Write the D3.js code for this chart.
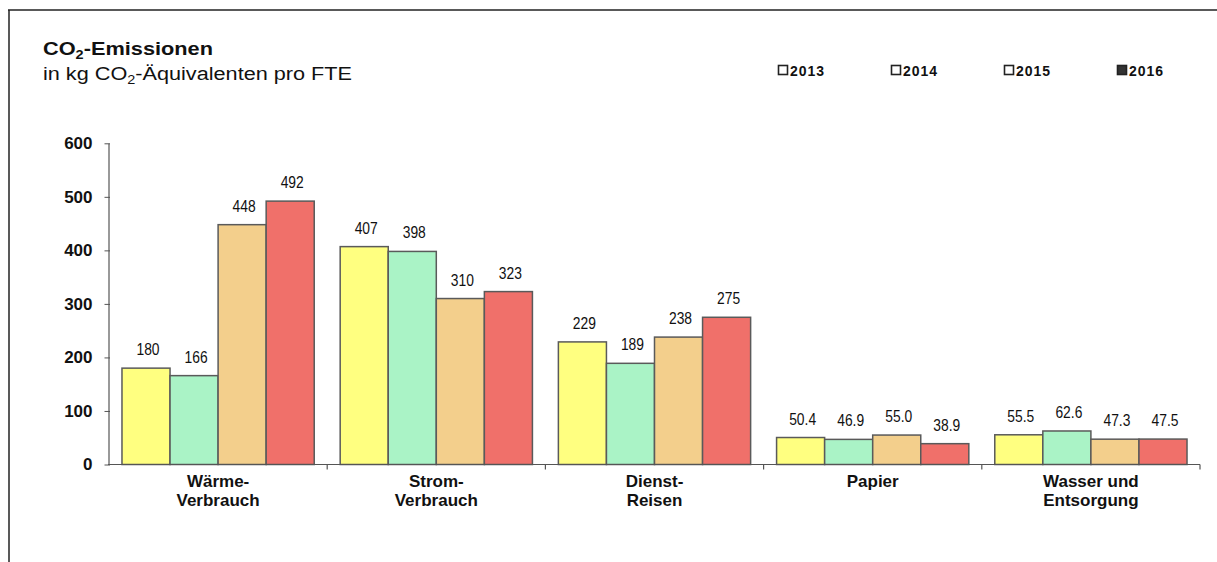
<!DOCTYPE html>
<html>
<head>
<meta charset="utf-8">
<script src="https://cdn.jsdelivr.net/npm/d3@7/dist/d3.min.js"></script>
<style>
  html, body { margin: 0; padding: 0; background: #fff; }
  svg { display: block; font-family: "Liberation Sans", Arial, Helvetica, sans-serif; }
</style>
</head>
<body>
<svg id="chart" width="1217" height="562"></svg>
<script>
// ---- data ----
const categories = [["Wärme-", "Verbrauch"], ["Strom-", "Verbrauch"], ["Dienst-", "Reisen"], ["Papier"], ["Wasser und", "Entsorgung"]];
const years = ["2013", "2014", "2015", "2016"];
const values2013 = [180, 407, 229, 50.4, 55.5];
const values2014 = [166, 398, 189, 46.9, 62.6];
const values2015 = [448, 310, 238, 55.0, 47.3];
const values2016 = [492, 323, 275, 38.9, 47.5];
const yTicks = [0, 100, 200, 300, 400, 500, 600];
const colors = ["#ffff80", "#aaf3c6", "#f3cf8c", "#f0706a"];

const series = [values2013, values2014, values2015, values2016];
const catKeys = categories.map(c => c.join(" "));

const svg = d3.select("#chart");

// frame
svg.append("line").attr("x1", 8).attr("x2", 1217).attr("y1", 10).attr("y2", 10)
  .attr("stroke", "#222").attr("stroke-width", 1.5);
svg.append("line").attr("x1", 9).attr("x2", 9).attr("y1", 10).attr("y2", 562)
  .attr("stroke", "#222").attr("stroke-width", 1.5);

// title
const title = svg.append("text").attr("x", 43).attr("y", 55)
  .attr("font-size", 18).attr("font-weight", "bold").attr("fill", "#111")
  .attr("textLength", 170).attr("lengthAdjust", "spacingAndGlyphs");
title.append("tspan").text("CO");
title.append("tspan").attr("font-size", 12).attr("dy", 4).text("2");
title.append("tspan").attr("dy", -4).text("-Emissionen");

const sub = svg.append("text").attr("x", 43).attr("y", 80)
  .attr("font-size", 18).attr("fill", "#111")
  .attr("textLength", 309).attr("lengthAdjust", "spacingAndGlyphs");
sub.append("tspan").text("in kg CO");
sub.append("tspan").attr("font-size", 12).attr("dy", 4).text("2");
sub.append("tspan").attr("dy", -4).text("-Äquivalenten pro FTE");

// legend
const legendX = d3.scalePoint().domain(years).range([778, 1117]);
const leg = svg.append("g").selectAll("g").data(years).join("g")
  .attr("transform", d => `translate(${legendX(d)},65)`);
leg.append("rect").attr("x", 0.5).attr("y", 0.5).attr("width", 9).attr("height", 9)
  .attr("fill", (d, i) => i === 3 ? "#333" : "#fff")
  .attr("stroke", "#222").attr("stroke-width", 1.6);
leg.append("text").attr("x", 12).attr("y", 10.5).attr("font-size", 14)
  .attr("font-weight", "bold").attr("letter-spacing", 1).attr("fill", "#111").text(d => d);

// scales
const x0 = d3.scaleBand().domain(catKeys).range([109, 1200]).paddingInner(0).paddingOuter(0);
const x1 = d3.scaleBand().domain(years).range([0, x0.bandwidth()]).paddingInner(0).paddingOuter(0.27);
const y = d3.scaleLinear().domain([0, 600]).range([464.5, 143.3]);

// y axis
const yAxis = svg.append("g").attr("transform", "translate(108.5,0)")
  .call(d3.axisLeft(y).tickValues(yTicks).tickSize(4).tickPadding(12).tickSizeOuter(0));
yAxis.select(".domain").attr("stroke", "#555").attr("stroke-width", 1.2);
yAxis.selectAll(".tick line").attr("stroke", "#555").attr("x2", -4).attr("x1", 1.5);
yAxis.selectAll(".tick text").attr("font-size", 17).attr("font-weight", "bold")
  .attr("fill", "#111").attr("font-family", "Liberation Sans, Arial, sans-serif");

// bars
const groups = svg.append("g").selectAll("g").data(catKeys).join("g")
  .attr("transform", d => `translate(${x0(d)},0)`);
groups.selectAll("rect").data((d, ci) => years.map((yr, si) => ({ yr, si, v: series[si][ci] })))
  .join("rect")
  .attr("x", d => x1(d.yr))
  .attr("y", d => y(d.v))
  .attr("width", x1.bandwidth())
  .attr("height", d => y(0) - y(d.v))
  .attr("fill", d => colors[d.si])
  .attr("stroke", "#5a5a5a").attr("stroke-width", 1.5);

// value labels
const fmt = v => v < 100 ? v.toFixed(1) : d3.format("d")(v);
groups.selectAll("text.val").data((d, ci) => years.map((yr, si) => ({ yr, si, v: series[si][ci] })))
  .join("text").attr("class", "val")
  .attr("transform", d => `translate(${x1(d.yr) + x1.bandwidth() / 2 + 2},${y(d.v) - 13}) scale(0.84,1)`)
  .attr("text-anchor", "middle").attr("font-size", 16.5).attr("fill", "#111")
  .text(d => fmt(d.v));

// x axis
const xAxis = svg.append("g").attr("transform", "translate(0,464.5)");
xAxis.append("line").attr("x1", 108).attr("x2", 1200).attr("y1", 0).attr("y2", 0)
  .attr("stroke", "#555").attr("stroke-width", 1.2);
const boundaries = catKeys.slice(1).map(k => x0(k)).concat([x0.range()[1]]);
xAxis.selectAll("line.t").data(boundaries).join("line").attr("class", "t")
  .attr("x1", d => d).attr("x2", d => d).attr("y1", 0).attr("y2", 5)
  .attr("stroke", "#555").attr("stroke-width", 1.2);

// category labels
const cl = svg.append("g").selectAll("text").data(categories).join("text")
  .attr("text-anchor", "middle").attr("font-size", 17).attr("font-weight", "bold").attr("fill", "#111")
  .attr("x", (d, i) => x0(catKeys[i]) + x0.bandwidth() / 2).attr("y", 487);
cl.selectAll("tspan").data(d => d).join("tspan")
  .attr("x", function () { return this.parentNode.getAttribute("x"); })
  .attr("dy", (d, i) => i === 0 ? 0 : 18.5)
  .text(d => d);
</script>
</body>
</html>
